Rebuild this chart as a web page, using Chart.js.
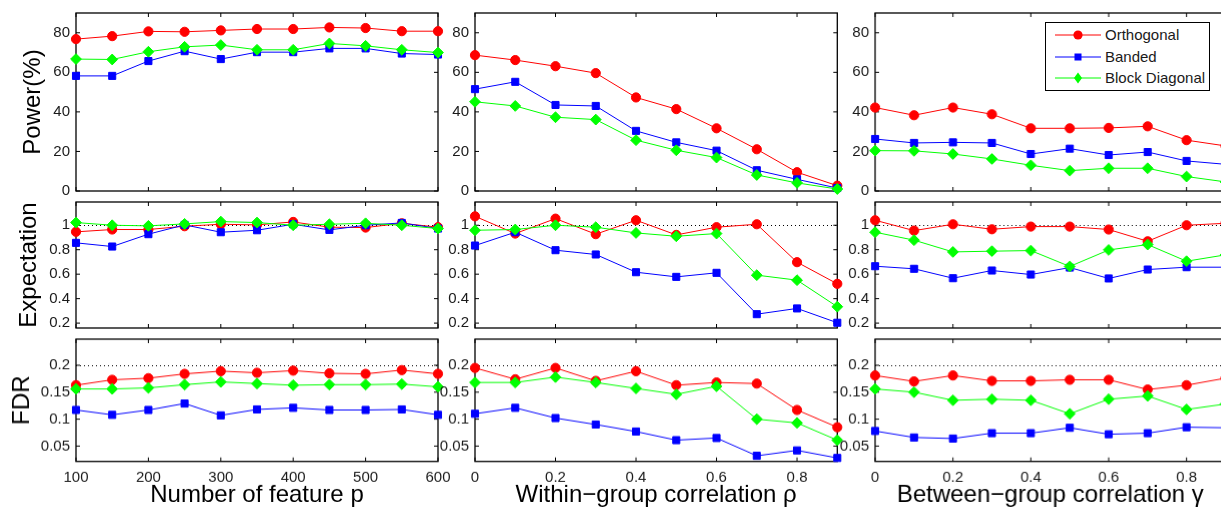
<!DOCTYPE html>
<html>
<head>
<meta charset="utf-8">
<script src="https://cdn.jsdelivr.net/npm/chart.js@4.4.0/dist/chart.umd.min.js"></script>
<style>
html, body { margin:0; padding:0; background:#fff; width:1221px; height:508px; overflow:hidden; position:relative; }
.panel { position:absolute; }
#legend { position:absolute; left:1045px; top:22px; width:165px; height:69px; box-sizing:border-box;
  border:1px solid #000; background:#fff; z-index:5; font-family:"Liberation Sans", Arial, sans-serif; color:#1a1a1a; }
#legend .row { position:absolute; left:0; height:16px; width:163px; }
#legend svg { position:absolute; left:9px; top:0; }
#legend span { position:absolute; left:59px; top:0; font-size:15px; line-height:16px; white-space:nowrap; }
</style>
</head>
<body>
<div id="legend"></div>
<script>
// x values
const pFeatures = [100, 150, 200, 250, 300, 350, 400, 450, 500, 550, 600];
const rhoVals = [0, 0.1, 0.2, 0.3, 0.4, 0.5, 0.6, 0.7, 0.8, 0.9];
const gammaVals = [0, 0.1, 0.2, 0.3, 0.4, 0.5, 0.6, 0.7, 0.8, 0.9];
const seriesNames = ["Orthogonal", "Banded", "Block Diagonal"];

// tick labels
const pTicks = [100, 200, 300, 400, 500, 600];
const corrTicks = [0, 0.2, 0.4, 0.6, 0.8];
const powerTicks = [0, 20, 40, 60, 80];
const expTicks = [0.2, 0.4, 0.6, 0.8, 1];
const fdrTicks = [0.05, 0.1, 0.15, 0.2];

// Power (%)
const powerP_orth = [76.8, 78.3, 80.7, 80.5, 81.2, 81.9, 81.9, 82.7, 82.4, 80.8, 80.8];
const powerP_band = [58.2, 58.2, 65.7, 70.7, 66.7, 70.2, 70.2, 72.1, 72.1, 69.5, 69.0];
const powerP_block = [66.7, 66.5, 70.4, 72.9, 73.8, 71.4, 71.4, 74.6, 73.4, 71.4, 70.0];
const powerRho_orth = [68.7, 66.2, 63.1, 59.6, 47.3, 41.4, 31.7, 21.1, 9.5, 2.7];
const powerRho_band = [51.5, 55.2, 43.5, 43.0, 30.4, 24.6, 20.4, 10.5, 5.9, 1.5];
const powerRho_block = [45.1, 43.0, 37.3, 36.1, 25.7, 20.6, 16.9, 8.1, 4.1, 1.0];
const powerGamma_orth = [42.2, 38.3, 42.2, 38.8, 31.7, 31.7, 31.9, 32.7, 25.7, 22.8];
const powerGamma_band = [26.3, 24.3, 24.6, 24.3, 18.7, 21.4, 18.2, 19.7, 15.2, 13.5];
const powerGamma_block = [20.4, 20.3, 18.7, 16.2, 13.0, 10.3, 11.5, 11.5, 7.3, 4.6];

// Expectation
const expP_orth = [0.946, 0.965, 0.965, 0.992, 1.008, 1.003, 1.027, 0.984, 0.981, 1.016, 0.984];
const expP_band = [0.856, 0.826, 0.927, 1.003, 0.943, 0.959, 1.008, 0.962, 1.0, 1.019, 0.973];
const expP_block = [1.022, 1.0, 0.995, 1.011, 1.030, 1.022, 1.0, 1.008, 1.016, 1.0, 0.973];
const expRho_orth = [1.073, 0.932, 1.054, 0.927, 1.041, 0.921, 0.984, 1.008, 0.698, 0.521];
const expRho_band = [0.834, 0.943, 0.796, 0.761, 0.616, 0.578, 0.611, 0.273, 0.320, 0.203];
const expRho_block = [0.959, 0.965, 1.0, 0.984, 0.937, 0.910, 0.932, 0.592, 0.551, 0.334];
const expGamma_orth = [1.041, 0.956, 1.008, 0.967, 0.989, 0.989, 0.965, 0.869, 1.0, 1.016];
const expGamma_band = [0.665, 0.644, 0.567, 0.630, 0.597, 0.654, 0.565, 0.638, 0.657, 0.657];
const expGamma_block = [0.943, 0.878, 0.782, 0.788, 0.793, 0.663, 0.798, 0.842, 0.706, 0.758];

// FDR
const fdrP_orth = [0.163, 0.173, 0.176, 0.184, 0.189, 0.186, 0.190, 0.185, 0.184, 0.191, 0.184];
const fdrP_band = [0.117, 0.108, 0.117, 0.129, 0.107, 0.118, 0.121, 0.117, 0.117, 0.118, 0.108];
const fdrP_block = [0.156, 0.156, 0.158, 0.164, 0.169, 0.166, 0.163, 0.164, 0.164, 0.165, 0.160];
const fdrRho_orth = [0.195, 0.174, 0.195, 0.171, 0.189, 0.163, 0.168, 0.166, 0.117, 0.085];
const fdrRho_band = [0.110, 0.121, 0.102, 0.090, 0.077, 0.061, 0.065, 0.032, 0.042, 0.028];
const fdrRho_block = [0.168, 0.168, 0.178, 0.168, 0.157, 0.146, 0.161, 0.100, 0.093, 0.061];
const fdrGamma_orth = [0.181, 0.170, 0.181, 0.171, 0.171, 0.173, 0.173, 0.155, 0.163, 0.176];
const fdrGamma_band = [0.078, 0.066, 0.064, 0.074, 0.074, 0.084, 0.072, 0.074, 0.085, 0.084];
const fdrGamma_block = [0.156, 0.150, 0.135, 0.137, 0.135, 0.110, 0.137, 0.143, 0.118, 0.128];

Chart.defaults.font.family = '"Liberation Sans", Arial, sans-serif';
Chart.defaults.color = "#1a1a1a";
Chart.defaults.animation = false;

const colors = ["#ff0000", "#0000ff", "#00ff00"];
const shapes = ["circle", "rect", "rectRot"];
const radii = [4.6, 5, 5.4];
const drawOrder = [2, 1, 0]; // green on top, like matlab

// matlab style box, inward ticks and the dotted reference line
const boxPlugin = {
    id: "matlabBox",
    beforeDatasetsDraw(chart, args, opts) {
        const ctx = chart.ctx, ca = chart.chartArea;
        const sx = chart.scales.x, sy = chart.scales.y;
        ctx.save();
        if (opts.refLine != null) {
            const y = Math.round(sy.getPixelForValue(opts.refLine)) + 0.5;
            ctx.strokeStyle = "#000";
            ctx.lineWidth = 1;
            ctx.setLineDash([1, 3]);
            ctx.beginPath();
            ctx.moveTo(ca.left, y);
            ctx.lineTo(ca.right, y);
            ctx.stroke();
            ctx.setLineDash([]);
        }
        ctx.strokeStyle = "#000";
        ctx.lineWidth = 1.3;
        ctx.strokeRect(ca.left, ca.top, ca.right - ca.left, ca.bottom - ca.top);
        const len = 4;
        ctx.lineWidth = 1;
        ctx.beginPath();
        sx.ticks.forEach(t => {
            const x = sx.getPixelForValue(t.value);
            ctx.moveTo(x, ca.bottom); ctx.lineTo(x, ca.bottom - len);
            ctx.moveTo(x, ca.top); ctx.lineTo(x, ca.top + len);
        });
        sy.ticks.forEach(t => {
            const y = sy.getPixelForValue(t.value);
            ctx.moveTo(ca.left, y); ctx.lineTo(ca.left + len, y);
            ctx.moveTo(ca.right, y); ctx.lineTo(ca.right - len, y);
        });
        ctx.stroke();
        ctx.restore();
    }
};

function noPad(s) {
    s.paddingTop = 0; s.paddingBottom = 0; s.paddingLeft = 0; s.paddingRight = 0;
}

function panel(cfg) {
    const L = cfg.L, T = 12, R = 16, PB = cfg.PB, XH = cfg.XH;
    const div = document.createElement("div");
    div.className = "panel";
    div.style.left = (cfg.left - L) + "px";
    div.style.top = (cfg.top - T) + "px";
    div.style.width = (L + cfg.w + R) + "px";
    div.style.height = (T + cfg.h + XH + PB) + "px";
    const cv = document.createElement("canvas");
    div.appendChild(cv);
    document.body.appendChild(div);

    new Chart(cv, {
        type: "line",
        data: {
            datasets: cfg.ys.map((ys, i) => ({
                label: seriesNames[i],
                data: cfg.xs.map((x, j) => ({ x: x, y: ys[j] })),
                borderColor: colors[i],
                backgroundColor: colors[i],
                borderWidth: 1,
                pointStyle: shapes[i],
                pointRadius: radii[i],
                pointBorderWidth: 1,
                pointBorderColor: colors[i],
                pointBackgroundColor: colors[i],
                order: drawOrder[i],
                clip: false
            }))
        },
        options: {
            responsive: true,
            maintainAspectRatio: false,
            layout: { padding: { top: T, right: R, left: 0, bottom: PB } },
            plugins: {
                legend: { display: false },
                tooltip: { enabled: false },
                matlabBox: { refLine: cfg.refLine }
            },
            scales: {
                x: {
                    type: "linear",
                    min: cfg.xMin, max: cfg.xMax,
                    grid: { display: false, drawTicks: false },
                    border: { display: false },
                    afterBuildTicks: s => { s.ticks = cfg.xTicks.map(v => ({ value: v })); },
                    afterFit: s => { s.height = XH; noPad(s); },
                    ticks: { display: !!cfg.xTitle, padding: 7, maxRotation: 0, autoSkip: false,
                             font: { size: 15 }, callback: v => String(v) },
                    title: { display: !!cfg.xTitle, text: cfg.xTitle, font: { size: 24 },
                             padding: { top: 0, bottom: 0 }, color: "#000" }
                },
                y: {
                    type: "linear",
                    min: cfg.yMin, max: cfg.yMax,
                    grid: { display: false, drawTicks: false },
                    border: { display: false },
                    afterBuildTicks: s => { s.ticks = cfg.yTicks.map(v => ({ value: v })); },
                    afterFit: s => { s.width = L; noPad(s); },
                    ticks: { padding: 6, font: { size: 15 }, callback: v => String(v) },
                    title: { display: !!cfg.yTitle, text: cfg.yTitle, font: { size: 24 },
                             padding: { top: cfg.yTitlePad || 0, bottom: 0 }, color: "#000" }
                }
            }
        },
        plugins: [boxPlugin]
    });
}

// panel grid (plot area positions)
const cols = [
    { left: 76, w: 362, L: 76, xs: pFeatures, xMin: 100, xMax: 600, xTicks: pTicks, xTitle: "Number of feature p" },
    { left: 475, w: 362.3, L: 36, xs: rhoVals, xMin: 0, xMax: 0.9, xTicks: corrTicks, xTitle: "Within\u2212group correlation \u03c1" },
    { left: 875, w: 349.5, L: 36, xs: gammaVals, xMin: 0, xMax: 0.9, xTicks: corrTicks, xTitle: "Between\u2212group correlation \u03b3" }
];
const rows = [
    { top: 12.7, h: 178, yMin: 0, yMax: 90, yTicks: powerTicks, yTitle: "Power(%)", pad: 19, refLine: null,
      ys: [[powerP_orth, powerP_band, powerP_block], [powerRho_orth, powerRho_band, powerRho_block], [powerGamma_orth, powerGamma_band, powerGamma_block]] },
    { top: 201.7, h: 126, yMin: 0.16, yMax: 1.19, yTicks: expTicks, yTitle: "Expectation", pad: 14.5, refLine: 1,
      ys: [[expP_orth, expP_band, expP_block], [expRho_orth, expRho_band, expRho_block], [expGamma_orth, expGamma_band, expGamma_block]] },
    { top: 339.3, h: 121.7, yMin: 0.0215, yMax: 0.2485, yTicks: fdrTicks, yTitle: "FDR", pad: 8, refLine: 0.2,
      ys: [[fdrP_orth, fdrP_band, fdrP_block], [fdrRho_orth, fdrRho_band, fdrRho_block], [fdrGamma_orth, fdrGamma_band, fdrGamma_block]] }
];

rows.forEach((r, ri) => {
    cols.forEach((c, ci) => {
        panel({
            left: c.left, w: c.w, L: c.L, top: r.top, h: r.h,
            XH: ri === 2 ? 48 : 2, PB: ri === 2 ? 0 : 10,
            xs: c.xs, xMin: c.xMin, xMax: c.xMax, xTicks: c.xTicks,
            xTitle: ri === 2 ? c.xTitle : null,
            yMin: r.yMin, yMax: r.yMax, yTicks: r.yTicks,
            yTitle: ci === 0 ? r.yTitle : null, yTitlePad: r.pad,
            refLine: r.refLine,
            ys: r.ys[ci]
        });
    });
});

// legend
const legendEl = document.getElementById("legend");
const rowTops = [4, 25.7, 47.3];
const markerSvg = [
    '<circle cx="23" cy="8" r="4.6" fill="#ff0000"/>',
    '<rect x="19.5" y="4.5" width="7" height="7" fill="#0000ff"/>',
    '<polygon points="23,2.6 27,8 23,13.4 19,8" fill="#00ff00"/>'
];
seriesNames.forEach((name, i) => {
    const row = document.createElement("div");
    row.className = "row";
    row.style.top = rowTops[i] + "px";
    row.innerHTML = '<svg width="46" height="16"><line x1="0" y1="8" x2="46" y2="8" stroke="' + colors[i] +
        '" stroke-width="1"/>' + markerSvg[i] + '</svg><span>' + name + '</span>';
    legendEl.appendChild(row);
});
</script>
</body>
</html>
